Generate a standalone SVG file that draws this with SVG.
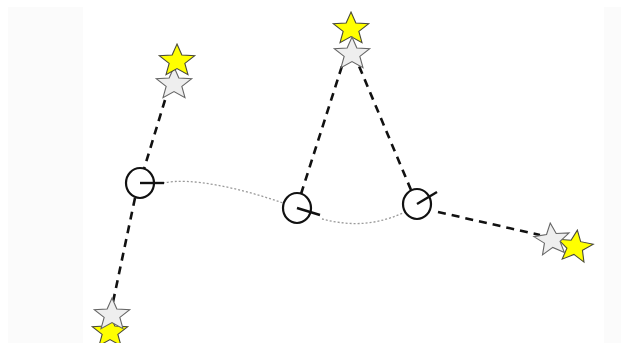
<svg xmlns="http://www.w3.org/2000/svg" xmlns:xlink="http://www.w3.org/1999/xlink" width="621" height="343" viewBox="0 0 621 343">
  <style>
    .dash { stroke: #111; stroke-width: 2.6; stroke-dasharray: 8 6; fill: none; }
    .dot { stroke: #9a9a9a; stroke-width: 1.3; stroke-dasharray: 2 2; fill: none; }
    .ring { stroke: #111; stroke-width: 2.2; fill: none; }
    .tick { stroke: #111; stroke-width: 2.4; }
    .ystar { fill: #ffff00; stroke: #4a4a3a; stroke-width: 1; }
    .gstar { fill: #eeeeee; stroke: #666666; stroke-width: 1; }
  </style>
  <defs>
    <path id="star" d="M0,-17 L4.41,-6.07 L16.17,-5.25 L7.13,2.32 L9.99,13.75 L0,7.5 L-9.99,13.75 L-7.13,2.32 L-16.17,-5.25 L-4.41,-6.07 Z"/>
  </defs>
  <rect x="0" y="0" width="621" height="343" fill="#ffffff"/>
  <rect x="8" y="7" width="75" height="336" fill="#fbfbfb"/>
  <rect x="604" y="7" width="17" height="336" fill="#fbfbfb"/>

  <g id="connectors">
    <path class="dot" d="M163,183 C190,177 240,188 283,203"/>
    <path class="dot" d="M322,219 C345,225 372,227 403,213"/>
    <line class="dash" x1="165" y1="100" x2="144" y2="169"/>
    <line class="dash" x1="135" y1="198" x2="113" y2="302"/>
    <line class="dash" x1="301" y1="194" x2="342" y2="66"/>
    <line class="dash" x1="411" y1="190" x2="359" y2="66"/>
    <line class="dash" x1="438" y1="212" x2="540" y2="235"/>
  </g>

  <g id="node-c1">
    <ellipse class="ring" cx="140" cy="183" rx="14" ry="15"/>
    <line class="tick" x1="140" y1="183" x2="164" y2="183"/>
  </g>
  <g id="node-c2">
    <ellipse class="ring" cx="297" cy="208" rx="14" ry="15"/>
    <line class="tick" x1="297" y1="208" x2="320" y2="215"/>
  </g>
  <g id="node-c3">
    <ellipse class="ring" cx="417" cy="204" rx="14" ry="15"/>
    <line class="tick" x1="417" y1="204" x2="437" y2="192"/>
  </g>

  <g id="star-topleft">
    <use xlink:href="#star" class="gstar" transform="translate(174,84) scale(1.1,1)"/>
    <use xlink:href="#star" class="ystar" transform="translate(177,61) scale(1.1,1)"/>
  </g>
  <g id="star-top">
    <use xlink:href="#star" class="ystar" transform="translate(351,29) scale(1.1,1)"/>
    <use xlink:href="#star" class="gstar" transform="translate(352,54) scale(1.1,1)"/>
  </g>
  <g id="star-right">
    <use xlink:href="#star" class="ystar" transform="translate(575,247) rotate(8) scale(1.1,1)"/>
    <use xlink:href="#star" class="gstar" transform="translate(552,240) rotate(-6) scale(1.1,1)"/>
  </g>
  <g id="star-bottomleft">
    <use xlink:href="#star" class="ystar" transform="translate(110,332) scale(1.1,1)"/>
    <use xlink:href="#star" class="gstar" transform="translate(112,315) scale(1.1,1)"/>
  </g>
</svg>
